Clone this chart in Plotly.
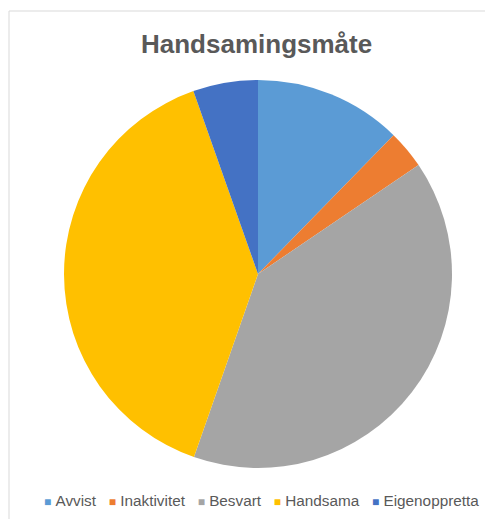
import plotly.graph_objects as go

categories = ["Avvist", "Inaktivitet", "Besvart", "Handsama", "Eigenoppretta"]
values = [12.3, 3.2, 39.8, 39.2, 5.4]
colors = ["#5B9BD5", "#ED7D31", "#A5A5A5", "#FFC000", "#4472C4"]

OFF = 8  # page body margin offset
W, H = 493 - OFF, 519 - OFF
cx, cy, r = 258 - OFF, 274 - OFF, 194

fig = go.Figure(go.Pie(
    labels=categories,
    values=values,
    sort=False,
    direction="clockwise",
    rotation=0,
    textinfo="none",
    marker=dict(colors=colors, line=dict(width=0)),
    domain=dict(x=[(cx - r) / W, (cx + r) / W],
                y=[(H - cy - r) / H, (H - cy + r) / H]),
    hoverinfo="label+percent",
    showlegend=False,
))

# legend row built from the category/colour lists
legend_text = "&nbsp;&nbsp;&nbsp;".join(
    f"<span style='color:{c};font-size:12px'>■</span>&nbsp;{lab}"
    for lab, c in zip(categories, colors)
)

fig.update_layout(
    width=W, height=H,
    margin=dict(l=0, r=0, t=0, b=0),
    paper_bgcolor="white",
    plot_bgcolor="white",
    font=dict(family="Liberation Sans, Arial, sans-serif", color="#595959"),
    showlegend=False,
    annotations=[
        dict(
            text="<b>Handsamingsmåte</b>",
            x=(257 - OFF) / W, y=1 - (44 - OFF) / H,
            xref="paper", yref="paper",
            xanchor="center", yanchor="middle",
            showarrow=False,
            font=dict(size=26, color="#595959"),
        ),
        dict(
            text=legend_text,
            x=(261 - OFF) / W, y=1 - (500 - OFF) / H,
            xref="paper", yref="paper",
            xanchor="center", yanchor="middle",
            showarrow=False,
            font=dict(size=15.3, color="#595959"),
        ),
    ],
    shapes=[dict(
        type="rect", xref="paper", yref="paper",
        x0=(9 - OFF) / W, y0=-0.3, x1=1.3, y1=1 - (11 - OFF) / H,
        line=dict(color="#D9D9D9", width=1),
        fillcolor="rgba(0,0,0,0)",
        layer="below",
    )],
)

fig.write_html("out.html")
